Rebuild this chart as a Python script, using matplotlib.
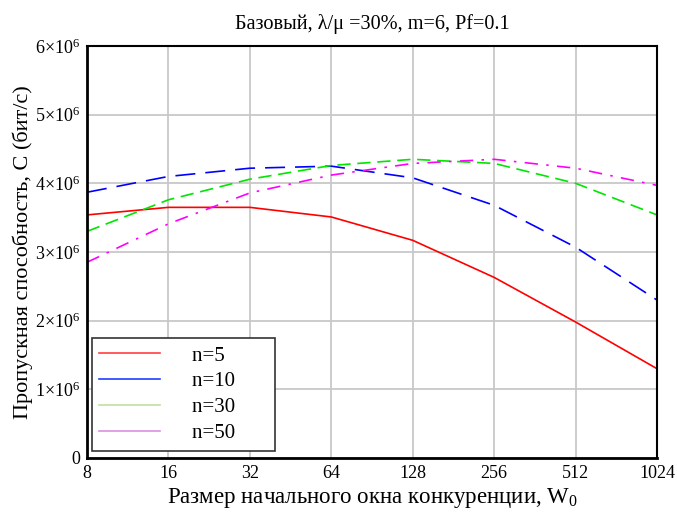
import matplotlib
matplotlib.use("Agg")
import matplotlib.pyplot as plt
from matplotlib.lines import Line2D
from matplotlib.ticker import FuncFormatter
import numpy as np

plt.rcParams['font.family'] = ['Liberation Serif', 'DejaVu Serif']
plt.rcParams['mathtext.fontset'] = 'custom'
plt.rcParams['mathtext.rm'] = 'Liberation Serif'
plt.rcParams['mathtext.it'] = 'Liberation Serif:italic'

# window sizes W0
w0 = [8, 16, 32, 64, 128, 256, 512, 1024]
# throughput, bit/s
c_n5 = [3.54e6, 3.65e6, 3.65e6, 3.51e6, 3.17e6, 2.63e6, 1.98e6, 1.30e6]
c_n10 = [3.87e6, 4.10e6, 4.22e6, 4.25e6, 4.08e6, 3.68e6, 3.07e6, 2.30e6]
c_n30 = [3.30e6, 3.76e6, 4.06e6, 4.26e6, 4.35e6, 4.29e6, 4.00e6, 3.54e6]
c_n50 = [2.85e6, 3.41e6, 3.86e6, 4.12e6, 4.29e6, 4.35e6, 4.22e6, 3.97e6]
labels = ['n=5', 'n=10', 'n=30', 'n=50']

fig = plt.figure(figsize=(6.77, 5.15), dpi=100)
ax = fig.add_axes([0.1285, 0.1107, 0.842, 0.80])

x = np.log2(w0)
ax.plot(x, c_n5, color='#ff0000', lw=1.2, ls='-')
ax.plot(x, c_n10, color='#0000ff', lw=1.2, ls=(0, (12, 6)))
ax.plot(x, c_n30, color='#00e600', lw=1.2, ls=(0, (8, 4)))
ax.plot(x, c_n50, color='#ff00ff', lw=1.2, ls=(0, (8, 5, 1.5, 5)))

ax.set_xlim(3, 10)
ax.set_ylim(0, 6e6)
ax.set_xticks(x)
ax.set_xticklabels([str(v) for v in w0])
ax.set_yticks(np.arange(0, 7) * 1e6)
ax.yaxis.set_major_formatter(FuncFormatter(
    lambda v, p: '0' if v == 0 else r'$%d{\times}10^6$' % round(v / 1e6)))
ax.tick_params(length=0, labelsize=13, pad=5)
ax.grid(color='#c8c8c8', lw=1.3)
ax.set_axisbelow(True)
for s in ax.spines.values():
    s.set_linewidth(1.5)
ax.spines['left'].set_linewidth(2)
ax.spines['bottom'].set_linewidth(2)

ax.set_title('Базовый, λ/μ =30%, m=6, Pf=0.1', fontsize=14.6, pad=12)
ax.set_xlabel(r'Размер начального окна конкуренции, W$_0$', fontsize=16.5, labelpad=3)
ax.set_ylabel('Пропускная способность, С (бит/с)', fontsize=16, labelpad=1)

handles = [Line2D([], [], color=c, lw=1.2) for c in
           ['#ff4040', '#2040ff', '#c0e0a0', '#d890e0']]
leg = ax.legend(handles, [l + '      ' for l in labels], loc='lower left',
                bbox_to_anchor=(0.008, 0.017),
                fontsize=15, handlelength=2.9, handletextpad=1.55,
                fancybox=False, framealpha=1, edgecolor='#333333',
                borderpad=0.38, labelspacing=0.3, borderaxespad=0)
leg.get_frame().set_linewidth(1.2)

fig.savefig('out.png', dpi=100)
